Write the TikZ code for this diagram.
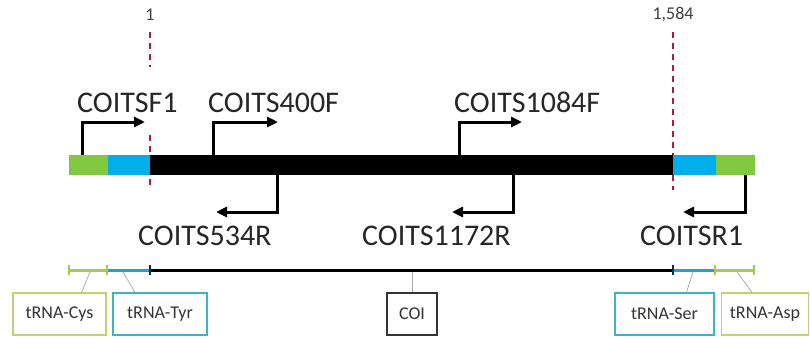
\documentclass[tikz,border=0pt]{standalone}
\usepackage{fontspec}
\setmainfont{Carlito}
\usetikzlibrary{positioning,arrows.meta}
\definecolor{trnagreen}{RGB}{128,200,64}
\definecolor{trnablue}{RGB}{0,174,235}
\definecolor{mapgreen}{RGB}{165,205,75}
\definecolor{mapblue}{RGB}{30,160,210}
\definecolor{cysedge}{RGB}{190,210,110}
\definecolor{tyredge}{RGB}{60,180,200}
\definecolor{sitered}{RGB}{170,30,50}

\begin{document}
\begin{tikzpicture}[x=1pt,y=-1pt,
  primer/.style={-{Triangle[length=11pt,width=10pt]},line width=3pt},
  plabel/.style={anchor=base west,inner sep=0pt,text=black!85,font=\fontsize{30}{32}\selectfont},
  sitenum/.style={inner sep=0pt,text=black!75,font=\fontsize{18}{20}\selectfont},
  site/.style={sitered,line width=1.5pt,dash pattern=on 6pt off 5pt},
  region/.style={line width=3pt},
  tick/.style={line width=1.8pt},
  gbox/.style={rectangle,draw,line width=1.2pt,minimum height=42pt,inner sep=0pt,
               text=black!80,font=\fontsize{18}{20}\selectfont},
  lead/.style={gray!70,line width=0.7pt}
]
\useasboundingbox (0,0) rectangle (810,338);

% site markers
\node[sitenum] (n1) at (150,15) {1};
\node[sitenum] (n1584) at (673,15) {1,584};
\coordinate (s1a) at (150,32);
\coordinate (s1b) at (150,67);
\coordinate (s1c) at (150,135);
\coordinate (s1d) at (150,190);
\coordinate (s2a) at (673,32);
\coordinate (s2b) at (673,190);
\draw[site] (s1a) -- (s1b);
\draw[site] (s1c) -- (s1d);
\draw[site] (s2a) -- (s2b);

% amplicon bar
\fill[trnagreen] (69,155) rectangle (108,175);
\fill[trnablue] (108,155) rectangle (150,175);
\fill[black] (150,155) rectangle (673,175);
\fill[trnablue] (673,155) rectangle (716,175);
\fill[trnagreen] (716,155) rectangle (755,175);

% forward primers
\coordinate (f1s) at (82,155);    \coordinate (f1e) at (145,122);
\coordinate (f400s) at (213,155); \coordinate (f400e) at (278,122);
\coordinate (f1084s) at (459,155); \coordinate (f1084e) at (522,122);
\draw[primer] (f1s) |- (f1e);
\draw[primer] (f400s) |- (f400e);
\draw[primer] (f1084s) |- (f1084e);
\node[plabel] (lf1) at (77,112) {COITSF1};
\node[plabel] (lf400) at (208,112) {COITS400F};
\node[plabel] (lf1084) at (454,112) {COITS1084F};

% reverse primers
\coordinate (r534s) at (277,175);  \coordinate (r534e) at (216,212);
\coordinate (r1172s) at (513,175); \coordinate (r1172e) at (452,212);
\coordinate (r1s) at (745,175);    \coordinate (r1e) at (683,212);
\draw[primer] (r534s) |- (r534e);
\draw[primer] (r1172s) |- (r1172e);
\draw[primer] (r1s) |- (r1e);
\node[plabel] (lr534) at (138,245) {COITS534R};
\node[plabel] (lr1172) at (362,245) {COITS1172R};
\node[plabel] (lr1) at (640,245) {COITSR1};

% gene map
\coordinate (m0) at (69,270);
\coordinate (m1) at (107,270);
\coordinate (m2) at (150,270);
\coordinate (m3) at (673,270);
\coordinate (m4) at (715,270);
\coordinate (m5) at (754,270);
\draw[region,black] (m2) -- (m3);
\draw[region,mapgreen] (m0) -- (m1);
\draw[region,mapblue] (m1) -- (m2);
\draw[region,mapblue] (m3) -- (m4);
\draw[region,mapgreen] (m4) -- (m5);
\draw[tick,mapgreen] (m0) ++(0,-5) -- ++(0,10);
\draw[tick,mapgreen] (m1) ++(0,-5) -- ++(0,10);
\draw[tick,black!70!mapblue] (m2) ++(0,-5) -- ++(0,10);
\draw[tick,black!70!mapblue] (m3) ++(0,-5) -- ++(0,10);
\draw[tick,mapgreen] (m4) ++(0,-5) -- ++(0,10);
\draw[tick,mapgreen] (m5) ++(0,-5) -- ++(0,10);

\node[gbox,draw=cysedge,minimum width=93pt] (cys) at (59.5,314) {tRNA-Cys};
\node[gbox,draw=tyredge,minimum width=94pt] (tyr) at (160,314) {tRNA-Tyr};
\node[gbox,draw=black!80,minimum width=50pt] (coi) at (412,314) {COI};
\node[gbox,draw=tyredge,minimum width=99pt] (ser) at (664.5,314) {tRNA-Ser};
\node[gbox,draw=cysedge,minimum width=87pt] (asp) at (765,314) {tRNA-Asp};

\coordinate (cysl) at (90,272);
\coordinate (tyrl) at (123,272);
\coordinate (coil) at (412,272);
\coordinate (serl) at (693,272);
\coordinate (aspl) at (737,272);
\draw[lead] (cysl) -- ([xshift=22pt]cys.north);
\draw[lead] (tyrl) -- ([xshift=-25pt]tyr.north);
\draw[lead] (coil) -- (coi.north);
\draw[lead] (serl) -- ([xshift=22pt]ser.north);
\draw[lead] (aspl) -- ([xshift=-13pt]asp.north);
\end{tikzpicture}
\end{document}
